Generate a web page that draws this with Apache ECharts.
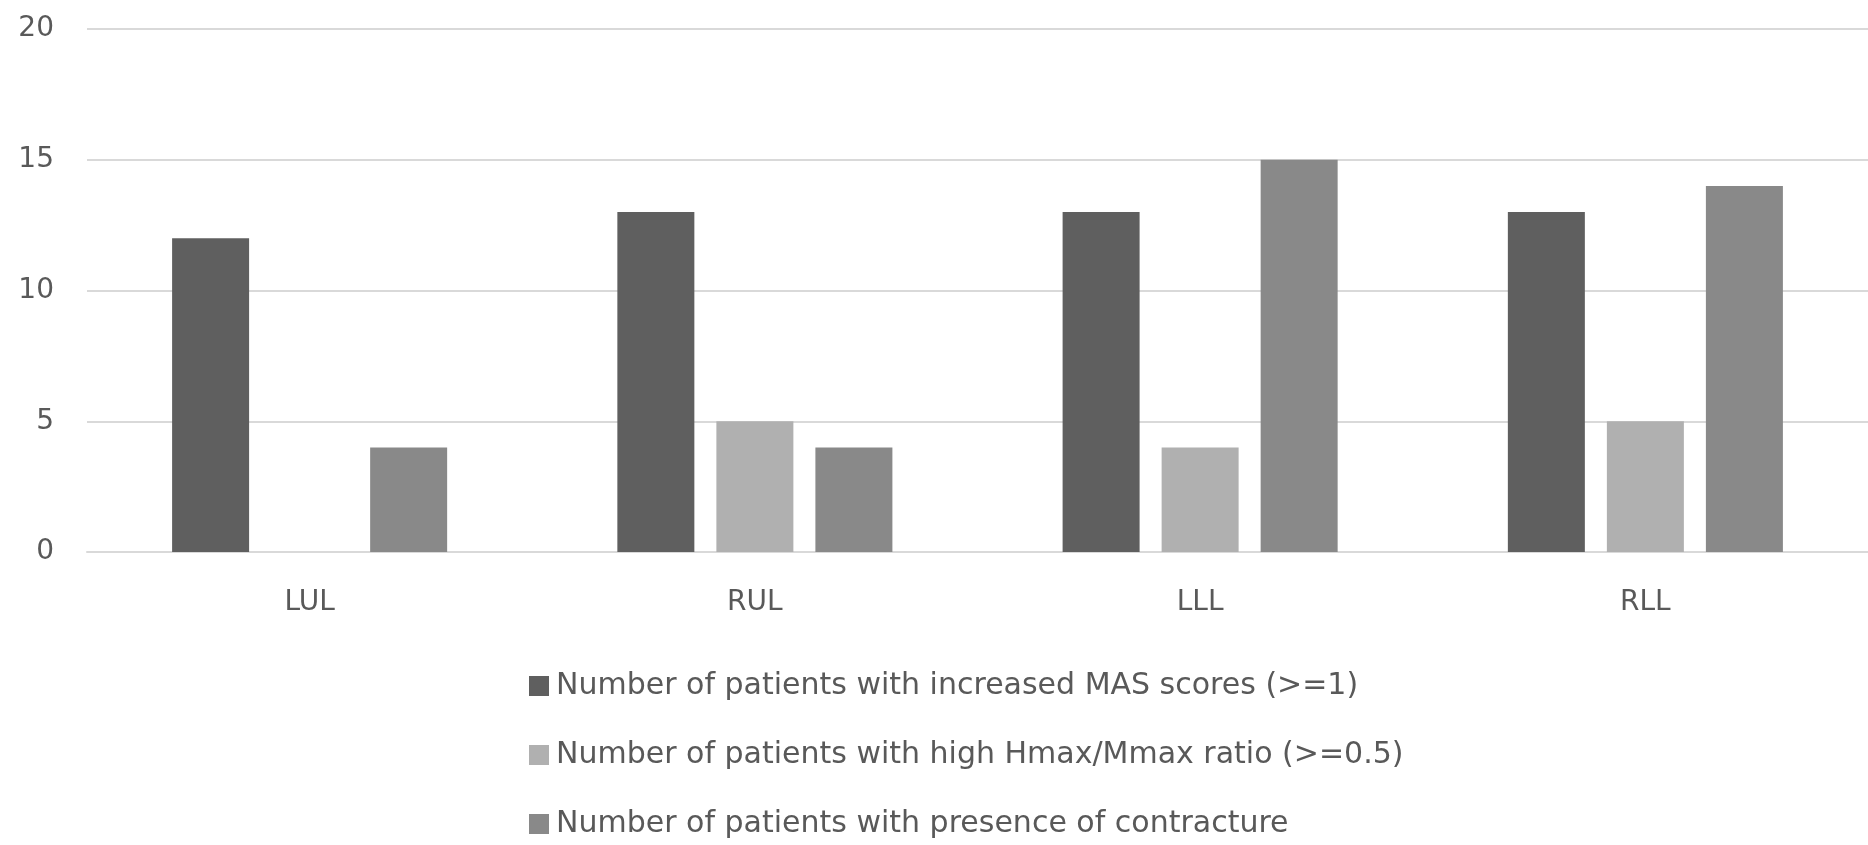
<!DOCTYPE html>
<html>
<head>
<meta charset="utf-8">
<script src="https://cdn.jsdelivr.net/npm/echarts@6/dist/echarts.min.js"></script>
<style>
  html, body { margin: 0; padding: 0; background: #ffffff; }
  #chart { width: 1868px; height: 845px; }
</style>
</head>
<body>
<div id="chart"></div>
<script>
// Limb groups on the x axis
const categories = ['LUL', 'RUL', 'LLL', 'RLL'];

// Series names shown in the legend
const seriesNames = [
  'Number of patients with increased MAS scores (>=1)',
  'Number of patients with high Hmax/Mmax ratio (>=0.5)',
  'Number of patients with presence of contracture'
];

// Patient counts per limb group
const masScores = [12, 13, 13, 13];
const hmaxRatio = [0, 5, 4, 5];
const contracture = [4, 4, 15, 14];

const seriesColors = ['#5f5f5f', '#b0b0b0', '#898989'];
const fontFamily = '"DejaVu Sans", sans-serif';
const textColor = '#595959';

const chart = echarts.init(document.getElementById('chart'));

const dataSets = [masScores, hmaxRatio, contracture];

chart.setOption({
  backgroundColor: '#ffffff',
  animation: false,
  grid: { left: 87, right: -7, top: 29, bottom: 293, containLabel: false },
  legend: {
    orient: 'vertical',
    left: 524,
    top: 666,
    height: 240,
    itemWidth: 20,
    itemHeight: 20,
    itemGap: 39,
    icon: 'rect',
    textStyle: { fontFamily, fontSize: 30, lineHeight: 30, color: textColor, padding: [0, 0, 0, 2] },
    data: seriesNames
  },
  xAxis: {
    type: 'category',
    data: categories,
    axisLine: { show: true, lineStyle: { color: '#d9d9d9', width: 2 } },
    axisTick: { show: false },
    axisLabel: { fontFamily, fontSize: 28, color: textColor, margin: 37 }
  },
  yAxis: {
    type: 'value',
    min: 0,
    max: 20,
    interval: 5,
    axisLine: { show: false },
    axisTick: { show: false },
    splitLine: { lineStyle: { color: '#d9d9d9', width: 2 } },
    axisLabel: { fontFamily, fontSize: 28, color: textColor, margin: 33 }
  },
  series: dataSets.map((values, i) => ({
    name: seriesNames[i],
    type: 'bar',
    data: values,
    barWidth: 77,
    barGap: '28.6%',
    itemStyle: { color: seriesColors[i] }
  }))
});
</script>
</body>
</html>
